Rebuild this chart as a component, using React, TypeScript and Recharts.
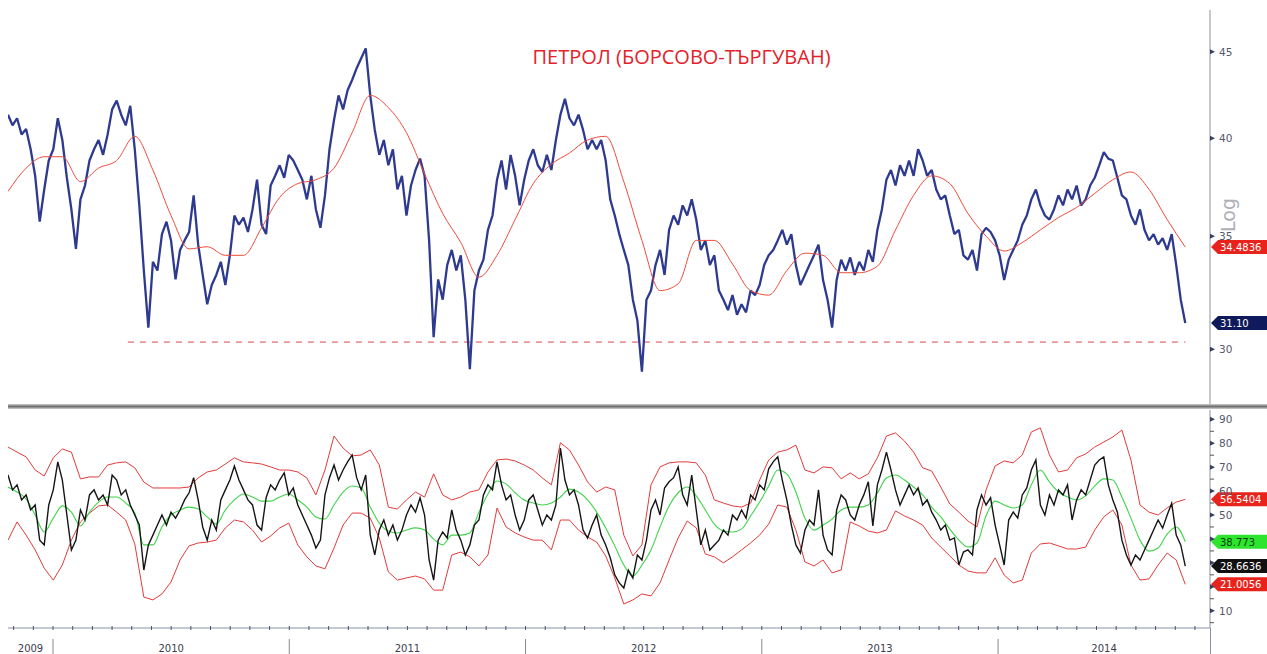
import { ComposedChart, Line, XAxis, YAxis, ReferenceLine } from 'recharts'

// time runs in fractional years, one close per week
const T0 = 2009.8095
const T1 = 2014.897
const WEEK = 7 / 365.25

// weekly closes
const closes = [
  41.3, 40.7, 41.1, 40.2, 40.5, 39.4, 38.0, 35.7, 37.3, 38.8,
  39.4, 41.1, 39.9, 37.9, 36.3, 34.4, 36.8, 37.5, 38.8, 39.4,
  39.9, 39.1, 40.2, 41.6, 42.1, 41.3, 40.7, 41.8, 39.4, 36.5,
  33.4, 30.9, 33.8, 33.4, 35.1, 35.7, 34.8, 33.0, 34.35, 34.8,
  35.2, 37.0, 34.6, 33.2, 31.9, 32.75, 33.2, 33.8, 32.75, 34.1,
  36.0, 35.55, 35.9, 35.2, 36.3, 37.8, 35.55, 35.1, 37.5, 38.0,
  38.55, 37.9, 39.1, 38.8, 38.3, 37.8, 36.8, 38.0, 36.3, 35.4,
  37.0, 39.4, 41.0, 42.4, 41.6, 42.7, 43.3, 44.0, 44.6, 45.2,
  42.4, 40.45, 39.1, 39.9, 38.55, 39.4, 37.3, 38.0, 36.0, 37.5,
  38.3, 38.9, 38.0, 34.8, 30.5, 33.0, 32.1, 33.65, 34.35, 33.4,
  34.1, 32.1, 29.2, 32.5, 33.4, 33.9, 35.3, 36.0, 37.8, 38.8,
  37.3, 39.1, 38.0, 36.5, 37.8, 38.8, 39.4, 38.55, 38.2, 39.1,
  38.3, 39.9, 41.3, 42.2, 41.1, 40.7, 41.3, 40.45, 39.4, 39.9,
  39.4, 39.9, 38.8, 36.8, 36.0, 35.1, 34.35, 33.65, 32.1, 31.2,
  29.1, 32.1, 32.5, 33.65, 34.35, 33.2, 35.3, 36.0, 35.55, 36.5,
  36.0, 36.8, 35.8, 34.35, 34.8, 33.65, 34.1, 32.5, 32.1, 31.65,
  32.3, 31.45, 31.9, 31.55, 32.5, 32.3, 32.75, 33.65, 34.1, 34.35,
  34.8, 35.3, 34.6, 35.1, 33.65, 32.75, 33.2, 33.65, 34.1, 34.6,
  32.97, 32.1, 30.9, 32.97, 33.9, 33.4, 34.0, 33.2, 33.8, 33.4,
  34.35, 33.8, 35.3, 36.3, 37.8, 38.3, 37.5, 38.55, 38.0, 38.8,
  38.0, 39.4, 38.8, 38.0, 38.3, 37.3, 36.8, 37.0, 36.0, 35.1,
  35.3, 34.1, 33.9, 34.35, 33.4, 35.1, 35.4, 35.2, 34.8, 34.1,
  32.97, 33.9, 34.35, 34.8, 35.55, 36.0, 36.8, 37.3, 36.5, 36.0,
  35.8, 36.3, 37.0, 36.5, 37.3, 36.8, 37.5, 36.5, 36.8, 37.5,
  37.9, 38.55, 39.25, 38.9, 38.8, 37.9, 37.0, 36.8, 36.0, 35.55,
  36.3, 35.3, 34.8, 35.1, 34.6, 34.9, 34.35, 35.1, 33.65, 32.1,
  31.1,
]

// moving average of the close, one value every 4 weeks
const priceAvg = [
  37.2, 38.4, 39.0, 39.0, 37.7, 38.4, 38.8, 40.1, 38.3, 36.0,
  34.4, 34.5, 34.1, 34.1, 35.4, 36.9, 37.6, 37.8, 38.4, 40.3,
  42.4, 41.7, 40.3, 38.1, 36.1, 34.7, 33.1, 34.1, 35.8, 37.6,
  38.6, 39.2, 39.9, 40.1, 37.7, 34.8, 32.5, 32.8, 34.8, 34.8,
  33.7, 32.5, 32.3, 33.4, 34.2, 34.1, 33.3, 33.3, 33.6, 35.3,
  37.0, 38.0, 37.6, 36.1, 35.0, 34.3, 34.7, 35.3, 35.9, 36.4,
  37.1, 37.8, 38.2, 37.3, 35.8, 34.4836,
]

// weekly RSI
const rsi = [
  66.7, 60.5, 62.6, 56.3, 58.4, 52.1, 54.2, 39.5, 37.5, 54.2,
  60.5, 72.2, 64.6, 50.0, 35.4, 39.5, 52.1, 47.9, 58.4, 60.5,
  56.3, 58.4, 54.2, 66.7, 64.6, 58.4, 60.5, 54.2, 50.0, 45.8,
  27.0, 37.5, 41.6, 45.8, 50.0, 45.8, 51.2, 48.7, 52.1, 56.3,
  59.3, 65.6, 56.3, 45.0, 39.5, 47.9, 43.7, 56.3, 60.5, 64.6,
  70.5, 64.6, 60.5, 56.3, 54.2, 45.8, 43.7, 57.2, 62.6, 60.5,
  64.6, 67.6, 58.4, 61.3, 54.2, 50.0, 45.8, 41.6, 36.2, 39.5,
  58.4, 65.6, 70.9, 64.6, 68.8, 72.2, 75.1, 65.6, 60.5, 66.7,
  41.6, 33.3, 43.7, 47.9, 41.6, 45.8, 39.5, 43.7, 50.0, 54.2,
  51.2, 57.2, 50.0, 31.2, 22.8, 39.5, 42.9, 40.4, 52.1, 43.7,
  39.5, 33.3, 37.5, 45.8, 47.9, 58.4, 62.6, 60.5, 72.2, 62.6,
  56.3, 58.4, 50.0, 43.7, 47.9, 56.3, 58.4, 52.1, 45.8, 50.0,
  47.9, 54.2, 78.0, 64.6, 58.4, 60.5, 54.2, 43.7, 40.4, 45.8,
  50.0, 41.6, 37.5, 32.1, 25.0, 21.6, 19.5, 27.0, 23.7, 33.3,
  31.2, 39.5, 52.1, 56.3, 50.0, 61.3, 63.9, 65.6, 70.1, 58.4,
  54.2, 66.7, 52.1, 37.5, 43.7, 35.4, 37.5, 39.5, 43.7, 41.6,
  50.0, 47.9, 52.1, 48.7, 58.4, 56.3, 62.6, 60.5, 69.3, 72.2,
  74.3, 64.6, 56.3, 45.8, 37.5, 34.1, 43.7, 47.9, 45.8, 60.5,
  41.6, 35.4, 33.3, 52.1, 58.4, 56.3, 50.0, 47.9, 54.2, 58.4,
  63.9, 45.4, 62.6, 68.8, 76.3, 68.8, 60.5, 54.2, 58.4, 62.6,
  58.4, 61.3, 54.2, 56.3, 51.2, 47.9, 43.7, 45.8, 39.5, 40.4,
  29.1, 34.5, 35.4, 33.3, 52.1, 58.4, 54.2, 57.2, 45.8, 37.5,
  29.1, 47.9, 51.2, 48.7, 58.4, 61.3, 68.8, 73.0, 54.2, 50.0,
  58.4, 54.2, 60.5, 58.4, 62.6, 47.9, 56.3, 60.5, 58.4, 64.6,
  70.9, 73.0, 74.3, 62.6, 56.3, 51.2, 39.5, 33.3, 29.1, 33.3,
  31.2, 35.4, 39.5, 43.7, 47.9, 44.5, 50.0, 54.9, 41.6, 37.5,
  28.6636,
]

// RSI average and bands, one value every 2 weeks
const rsiAvg = [
  61.7, 59.6, 56.7, 50.0, 42.9, 48.7, 53.8, 51.2, 45.4, 51.2,
  55.4, 57.5, 57.5, 55.0, 50.8, 37.5, 37.5, 45.0, 50.0, 52.1,
  53.3, 52.5, 49.2, 46.2, 52.1, 56.3, 58.8, 57.5, 55.8, 55.8,
  57.5, 58.8, 56.3, 53.3, 49.2, 48.3, 54.2, 59.6, 62.1, 61.3,
  53.3, 46.6, 43.3, 42.5, 43.7, 44.6, 43.7, 39.9, 37.5, 41.6,
  41.6, 42.5, 51.2, 58.8, 64.2, 63.0, 59.3, 56.3, 55.0, 54.2,
  55.0, 57.5, 60.8, 59.6, 56.3, 51.2, 44.6, 37.1, 29.1, 24.5,
  29.1, 35.4, 45.0, 53.8, 59.3, 61.7, 58.0, 52.1, 46.2, 43.3,
  42.9, 44.1, 49.6, 55.4, 62.1, 68.8, 67.2, 59.6, 48.7, 43.7,
  45.8, 48.3, 52.1, 53.3, 53.3, 54.2, 59.2, 65.5, 66.7, 64.6,
  61.7, 58.4, 53.3, 49.2, 44.1, 39.5, 36.6, 38.3, 49.6, 55.8,
  54.2, 52.9, 54.2, 62.6, 68.8, 63.8, 59.6, 57.5, 56.3, 58.0,
  62.1, 65.1, 64.6, 57.5, 48.7, 39.5, 34.9, 36.2, 42.0, 45.0,
  38.773,
]

const bandUpper = [
  78.4, 76.3, 74.3, 68.8, 66.3, 73.9, 77.6, 76.3, 65.1, 65.9,
  65.9, 70.9, 71.8, 72.2, 69.7, 63.8, 61.3, 61.3, 61.3, 61.3,
  61.7, 65.5, 68.0, 68.8, 71.3, 73.9, 72.2, 71.8, 71.3, 70.1,
  68.8, 68.8, 68.0, 65.5, 58.4, 68.8, 83.0, 78.0, 74.7, 75.1,
  77.2, 70.9, 53.3, 52.5, 56.3, 59.6, 57.5, 67.2, 58.4, 56.3,
  57.5, 59.6, 60.5, 68.0, 73.0, 73.4, 72.6, 70.9, 68.8, 65.5,
  62.6, 80.2, 77.2, 70.9, 63.8, 59.6, 61.7, 60.5, 41.6, 32.9,
  37.5, 62.6, 70.1, 71.8, 72.2, 72.2, 71.8, 66.7, 56.3, 55.0,
  53.8, 53.3, 55.0, 64.6, 73.0, 76.3, 77.2, 79.2, 68.8, 67.6,
  70.1, 69.7, 65.1, 67.6, 65.1, 67.2, 73.9, 83.0, 84.3, 80.9,
  76.3, 69.7, 68.4, 61.7, 54.6, 51.2, 47.5, 45.0, 60.5, 70.5,
  72.6, 71.8, 75.1, 84.7, 86.4, 75.1, 68.0, 68.8, 73.9, 75.5,
  78.4, 80.5, 82.6, 85.5, 73.0, 54.2, 51.2, 50.0, 53.0, 55.4,
  56.5404,
]

const bandLower = [
  39.5, 47.1, 41.6, 35.4, 27.8, 22.8, 29.1, 39.5, 47.1, 50.8,
  53.8, 54.2, 51.2, 47.9, 37.9, 15.7, 14.5, 17.0, 22.0, 31.2,
  37.1, 38.3, 38.7, 39.5, 44.6, 47.9, 47.1, 43.7, 38.7, 41.2,
  44.6, 46.6, 37.5, 32.5, 28.7, 27.5, 36.2, 45.8, 50.8, 50.8,
  48.7, 40.4, 26.2, 22.8, 23.7, 24.5, 23.3, 18.6, 18.6, 33.3,
  34.5, 32.5, 28.7, 33.3, 52.9, 45.0, 42.5, 40.8, 39.5, 39.5,
  35.4, 47.9, 47.9, 43.7, 40.8, 38.7, 32.9, 23.7, 12.8, 14.5,
  17.0, 16.2, 21.6, 31.2, 40.4, 47.5, 44.6, 33.7, 32.5, 30.0,
  32.5, 35.4, 38.3, 41.6, 46.2, 54.2, 53.3, 43.7, 30.4, 28.7,
  31.2, 25.8, 27.0, 47.1, 45.4, 43.3, 42.5, 43.7, 51.7, 49.6,
  47.9, 45.8, 40.4, 36.6, 32.9, 29.1, 26.6, 25.8, 25.8, 32.1,
  24.9, 21.6, 22.8, 34.1, 37.9, 38.3, 37.1, 35.8, 35.8, 36.6,
  43.7, 49.2, 52.1, 45.8, 29.1, 22.8, 23.3, 29.1, 34.1, 31.2,
  21.0056,
]

const supportLevel = 30.3
const supportFrom = 2010.317
const years = [2009, 2010, 2011, 2012, 2013, 2014]
const priceTicks = [30, 35, 40, 45]
const rsiTicks = [5, 10, 15, 20, 25, 30, 35, 40, 45, 50, 55, 60, 65, 70, 75, 80, 85, 90]
// RSI labels that sit underneath the value flags
const rsiHiddenLabels = [20, 30, 40]

const rows = closes.map((close, i) => ({
  t: T0 + i * WEEK,
  close,
  avg: i % 4 === 0 ? priceAvg[i / 4] : null,
  rsi: rsi[i],
  rsiAvg: i % 2 === 0 ? rsiAvg[i / 2] : null,
  upper: i % 2 === 0 ? bandUpper[i / 2] : null,
  lower: i % 2 === 0 ? bandLower[i / 2] : null,
}))
const lastT = rows[rows.length - 1].t
const last = (arr: number[]) => arr[arr.length - 1]

const yearMids = years.map((yr) => (Math.max(yr, T0) + Math.min(yr + 1, T1)) / 2)
const monthTicks: number[] = []
years.forEach((yr) => {
  for (let m = 0; m < 12; m++) {
    const t = yr + m / 12
    if (t > T0 && t < T1) monthTicks.push(t)
  }
})
const near = (a: number, b: number) => Math.abs(a - b) < 1e-6
const timeTicks = [...monthTicks, ...yearMids.filter((m) => !monthTicks.some((t) => near(t, m)))].sort(
  (a, b) => a - b
)

const AXIS = '#8c90a4'
const LABEL = '#55596b'

function TimeTick({ x, y, payload }: any) {
  const v = payload.value
  const mid = yearMids.findIndex((m) => near(m, v))
  const isMonth = monthTicks.some((t) => near(t, v))
  const isYear = near(v, Math.round(v))
  return (
    <g>
      {isMonth && <line x1={x} x2={x} y1={y - 2} y2={y + 2} stroke='#4c5170' />}
      {isMonth && isYear && <line x1={x} x2={x} y1={y + 11} y2={y + 26} stroke='#8a8a8a' />}
      {mid >= 0 && (
        <text x={x} y={y + 24} textAnchor='middle' fontSize={10} fill='#3a3d50'>
          {years[mid]}
        </text>
      )}
    </g>
  )
}

function ValueTick({ x, y, payload, noLabel }: any) {
  return (
    <g>
      <path d={`M${x},${y - 2.5} L${x + 5},${y} L${x},${y + 2.5} Z`} fill='#3a3f5c' />
      {!noLabel && (
        <text x={x + 9} y={y + 4} fontSize={10.5} fill={LABEL}>
          {payload.value}
        </text>
      )}
    </g>
  )
}

function RsiTick(props: any) {
  const { x, y, payload } = props
  if (payload.value % 10 === 0) return <ValueTick {...props} noLabel={rsiHiddenLabels.includes(payload.value)} />
  return <line x1={x} x2={x + 4} y1={y} y2={y} stroke='#555' />
}

// value flag sitting on the right axis
const flag = (text: string, fill: string, color: string) => (props: any) => {
  const { viewBox } = props
  const x = viewBox.x + viewBox.width
  const y = viewBox.y
  return (
    <g>
      <path d={`M${x + 1},${y} L${x + 8},${y - 7} H${x + 60} V${y + 7} H${x + 8} Z`} fill={fill} />
      <text x={x + 10} y={y + 4} fontSize={10} fill={color}>
        {text}
      </text>
    </g>
  )
}

export default function App() {
  return (
    <div
      style={{
        position: 'absolute',
        left: 0,
        top: 0,
        width: 1267,
        height: 654,
        overflow: 'hidden',
        background: '#fff',
        fontFamily: 'DejaVu Sans',
      }}
    >
      <div style={{ position: 'absolute', left: 0, top: 0 }}>
        <ComposedChart width={1267} height={405} data={rows} margin={{ top: 10, right: 0, bottom: 0, left: 8 }}>
          <XAxis type='number' dataKey='t' domain={[T0, T1]} hide allowDataOverflow />
          <YAxis
            orientation='right'
            scale='log'
            domain={[27.81, 47.63]}
            allowDataOverflow
            ticks={priceTicks}
            width={57}
            tickSize={0}
            tickMargin={0}
            axisLine={{ stroke: AXIS }}
            tick={<ValueTick />}
          />
          <ReferenceLine
            segment={[
              { x: supportFrom, y: supportLevel },
              { x: lastT, y: supportLevel },
            ]}
            stroke='#d84848'
            strokeDasharray='6 6'
          />
          <Line
            dataKey='close'
            stroke='#2d3a8f'
            strokeWidth={2.3}
            strokeLinejoin='bevel'
            dot={false}
            isAnimationActive={false}
          />
          <Line
            dataKey='avg'
            type='monotone'
            stroke='#ec4c3c'
            strokeWidth={1}
            dot={false}
            connectNulls
            isAnimationActive={false}
          />
          <ReferenceLine y={last(priceAvg)} stroke='none' label={flag(String(last(priceAvg)), '#e8231c', '#fff')} />
          <ReferenceLine y={last(closes)} stroke='none' label={flag(last(closes).toFixed(2), '#0f1a5c', '#fff')} />
        </ComposedChart>
      </div>

      <div
        style={{
          position: 'absolute',
          left: 528,
          top: 47,
          width: 307,
          textAlign: 'center',
          whiteSpace: 'nowrap',
          fontFamily: 'Open Sans',
          fontSize: 20,
          lineHeight: '20px',
          color: '#e4222b',
        }}
      >
        ПЕТРОЛ (БОРСОВО-ТЪРГУВАН)
      </div>

      <div
        style={{
          position: 'absolute',
          left: 1208,
          top: 205,
          width: 40,
          textAlign: 'center',
          fontSize: 19,
          lineHeight: '20px',
          color: '#b0b0b8',
          transform: 'rotate(-90deg)',
        }}
      >
        Log
      </div>

      <div
        style={{
          position: 'absolute',
          left: 8,
          top: 404,
          width: 1259,
          height: 5,
          background: 'linear-gradient(#d0d0d0, #6e6e6e 50%, #d0d0d0)',
        }}
      />

      <div style={{ position: 'absolute', left: 0, top: 410 }}>
        <ComposedChart width={1267} height={244} data={rows} margin={{ top: 0, right: 0, bottom: 0, left: 8 }}>
          <XAxis
            type='number'
            dataKey='t'
            domain={[T0, T1]}
            allowDataOverflow
            ticks={timeTicks}
            interval={0}
            height={26}
            tickSize={0}
            tickMargin={0}
            axisLine={{ stroke: AXIS }}
            tick={<TimeTick />}
          />
          <YAxis
            orientation='right'
            domain={[2.77, 93.89]}
            allowDataOverflow
            ticks={rsiTicks}
            interval={0}
            width={57}
            tickSize={0}
            tickMargin={0}
            axisLine={{ stroke: AXIS }}
            tick={<RsiTick />}
          />
          <Line dataKey='upper' stroke='#e23b3b' strokeWidth={1} dot={false} connectNulls isAnimationActive={false} />
          <Line dataKey='lower' stroke='#e23b3b' strokeWidth={1} dot={false} connectNulls isAnimationActive={false} />
          <Line
            dataKey='rsiAvg'
            type='monotone'
            stroke='#3fd34a'
            strokeWidth={1.1}
            dot={false}
            connectNulls
            isAnimationActive={false}
          />
          <Line dataKey='rsi' stroke='#151515' strokeWidth={1.4} dot={false} isAnimationActive={false} />
          <ReferenceLine y={last(bandUpper)} stroke='none' label={flag(String(last(bandUpper)), '#e8231c', '#fff')} />
          <ReferenceLine y={last(rsiAvg)} stroke='none' label={flag(String(last(rsiAvg)), '#2ee52e', '#0b3d0b')} />
          <ReferenceLine y={last(rsi)} stroke='none' label={flag(String(last(rsi)), '#111', '#fff')} />
          <ReferenceLine y={last(bandLower)} stroke='none' label={flag(String(last(bandLower)), '#e8231c', '#fff')} />
        </ComposedChart>
      </div>

      <div style={{ position: 'absolute', left: 1210, top: 628, width: 1, height: 26, background: AXIS }} />
    </div>
  )
}
